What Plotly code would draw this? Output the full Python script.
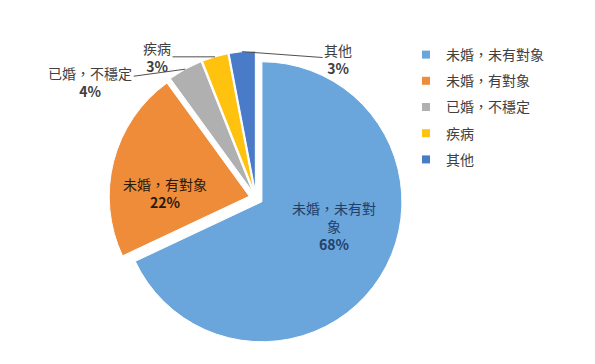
import math
import plotly.graph_objects as go

# ---- data ----
categories = ["未婚，未有對象", "未婚，有對象", "已婚，不穩定", "疾病", "其他"]
slice_text = ["未婚，未有對<br>象", "未婚，有對象", "已婚，不穩定", "疾病", "其他"]
values = [68, 22, 4, 3, 3]
colors = ["#6AA6DC", "#EE8C3A", "#B0B0B0", "#FFC20E", "#4A7BC8"]

# ---- layout constants ----
W, H = 595, 364
PULL = 0.05
CX, CY, D = 256, 198, 294  # pie box centre and size in px
R = D / (2 + 2 * PULL)
FONT = "Noto Sans CJK TC, Noto Sans, sans-serif"
TXT = "#404040"

dom_x = [(CX - D / 2) / W, (CX + D / 2) / W]
dom_y = [1 - (CY + D / 2) / H, 1 - (CY - D / 2) / H]

fig = go.Figure()
fig.add_trace(go.Pie(
    labels=categories, values=values,
    sort=False, direction="clockwise", rotation=0,
    pull=[PULL] * len(values),
    marker=dict(colors=colors, line=dict(color="white", width=1)),
    textinfo="none",
    domain=dict(x=dom_x, y=dom_y),
    showlegend=False, hoverinfo="label+percent",
))

# legend entries (square markers)
for i, (c, col) in enumerate(zip(categories, colors)):
    fig.add_trace(go.Scatter(
        x=[None], y=[None], mode="markers", name=c,
        marker=dict(symbol="square", size=8, color=col),
        legendgroup=f"g{i}", showlegend=True,
    ))

# label placement styles
inside_style = {0: (0.54, -13.7, "#22406A"), 1: (0.60, -12.4, "#2B1A0C")}  # (radius frac, angle offset deg, colour)
outside_offsets = {2: (-95, 13), 3: (-58, 0), 4: (96, 7)}

cum = 0
annotations = []
total = sum(values)
for i, v in enumerate(values):
    mid = 2 * math.pi * (cum + v / 2) / total
    cum += v
    sx, sy = math.sin(mid), -math.cos(mid)
    apx, apy = CX + PULL * R * sx, CY + PULL * R * sy
    if i in inside_style:
        frac, doff, col = inside_style[i]
        a = mid + math.radians(doff)
        lx = apx + frac * R * math.sin(a)
        ly = apy - frac * R * math.cos(a)
        annotations.append(dict(
            x=lx / W, y=1 - ly / H, xref="paper", yref="paper",
            text=f"{slice_text[i]}<br><b>{v}%</b>", showarrow=False,
            align="center", xanchor="center", yanchor="middle",
            font=dict(family=FONT, size=14, color=col),
        ))
    else:
        ex, ey = apx + R * sx, apy + R * sy
        ax, ay = outside_offsets[i]
        annotations.append(dict(
            x=ex / W, y=1 - ey / H, xref="paper", yref="paper",
            text=f"{slice_text[i]}<br><b>{v}%</b>",
            showarrow=True, arrowhead=0, arrowwidth=1, arrowcolor="#505050",
            ax=ax, ay=ay, align="center",
            font=dict(family=FONT, size=14, color=TXT),
        ))

fig.update_layout(
    width=W, height=H,
    margin=dict(l=0, r=0, t=0, b=0),
    paper_bgcolor="white", plot_bgcolor="white",
    xaxis=dict(visible=False), yaxis=dict(visible=False),
    annotations=annotations,
    legend=dict(
        x=406 / W, y=1 - 39 / H, xanchor="left", yanchor="top",
        font=dict(family=FONT, size=14, color=TXT),
        tracegroupgap=5, itemwidth=30,
        bgcolor="rgba(0,0,0,0)",
    ),
)

fig.write_html("out.html")
